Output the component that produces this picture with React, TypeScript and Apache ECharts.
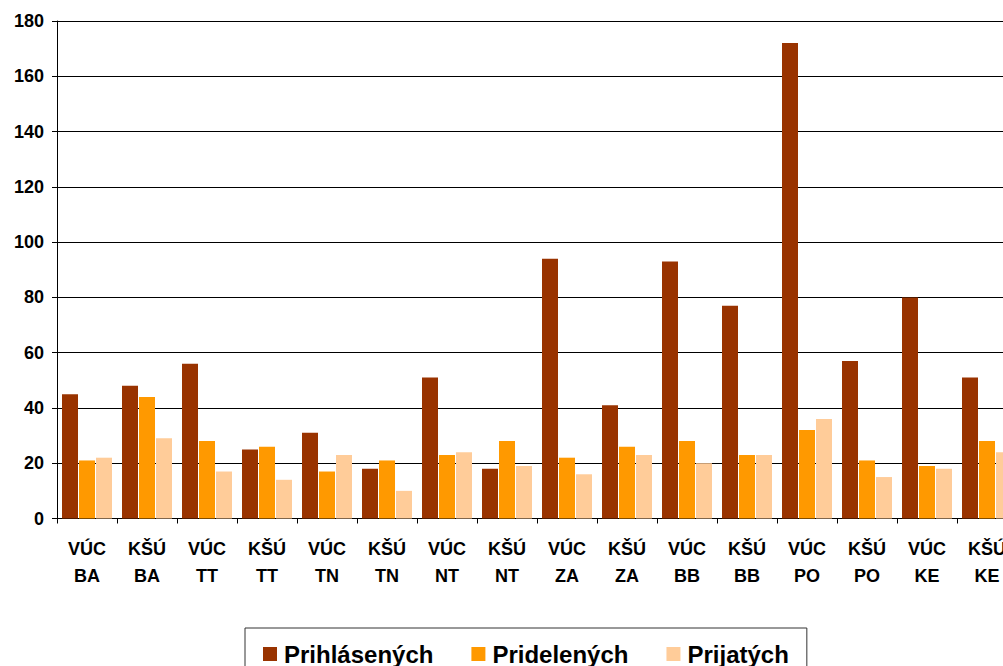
import React, { useEffect, useRef } from "react";
import * as echarts from "echarts";

const categories = [
  "VÚC\nBA", "KŠÚ\nBA", "VÚC\nTT", "KŠÚ\nTT", "VÚC\nTN", "KŠÚ\nTN", "VÚC\nNT", "KŠÚ\nNT",
  "VÚC\nZA", "KŠÚ\nZA", "VÚC\nBB", "KŠÚ\nBB", "VÚC\nPO", "KŠÚ\nPO", "VÚC\nKE", "KŠÚ\nKE",
];
const prihlasenych = [45, 48, 56, 25, 31, 18, 51, 18, 94, 41, 93, 77, 172, 57, 80, 51];
const pridelenych = [21, 44, 28, 26, 17, 21, 23, 28, 22, 26, 28, 23, 32, 21, 19, 28];
const prijatych = [22, 29, 17, 14, 23, 10, 24, 19, 16, 23, 20, 23, 36, 15, 18, 24];
const seriesNames = ["Prihlásených", "Pridelených", "Prijatých"];
const colors = ["#993300", "#FF9900", "#FFCC99"];

const FONT = "'Liberation Sans', Arial, sans-serif";

export default function App() {
  const ref = useRef<HTMLDivElement>(null);
  useEffect(() => {
    if (!ref.current) return;
    const chart = echarts.init(ref.current, null, { renderer: "svg" });
    const values = [prihlasenych, pridelenych, prijatych];
    chart.setOption({
      animation: false,
      backgroundColor: "#ffffff",
      textStyle: { fontFamily: FONT },
      grid: { left: 57, top: 21, width: 960, height: 497.5, containLabel: false },
      legend: {
        left: 245,
        top: 628,
        orient: "horizontal",
        itemWidth: 14,
        itemHeight: 14,
        itemGap: 38,
        padding: [14, 18, 14, 18],
        borderColor: "#333333",
        borderWidth: 1,
        icon: "rect",
        textStyle: {
          fontFamily: FONT,
          fontSize: 24,
          fontWeight: "bold",
          color: "#000",
          padding: [0, 0, 0, 2],
        },
        data: seriesNames,
      },
      xAxis: {
        type: "category",
        data: categories,
        boundaryGap: true,
        axisLine: { lineStyle: { color: "#000", width: 1 } },
        axisTick: { show: true, inside: false, length: 5, lineStyle: { color: "#000" } },
        axisLabel: {
          interval: 0,
          margin: 17,
          fontFamily: FONT,
          fontSize: 18,
          fontWeight: "bold",
          color: "#000",
          lineHeight: 27,
        },
        splitLine: { show: false },
      },
      yAxis: {
        type: "value",
        min: 0,
        max: 180,
        interval: 20,
        axisLine: { show: true, lineStyle: { color: "#000", width: 1 } },
        axisTick: { show: true, inside: false, length: 5, lineStyle: { color: "#000" } },
        axisLabel: {
          margin: 13,
          fontFamily: FONT,
          fontSize: 18,
          fontWeight: "bold",
          color: "#000",
        },
        splitLine: { show: true, lineStyle: { color: "#000", width: 1 } },
      },
      series: seriesNames.map((name, i) => ({
        name,
        type: "bar",
        data: values[i],
        barWidth: 16,
        barGap: "6.25%",
        itemStyle: { color: colors[i] },
      })),
    });
    return () => chart.dispose();
  }, []);
  return (
    <div style={{ position: "fixed", left: 0, top: 0, width: 1003, height: 666, overflow: "hidden", background: "#fff" }}>
      <div ref={ref} style={{ width: 1030, height: 666 }} />
    </div>
  );
}
